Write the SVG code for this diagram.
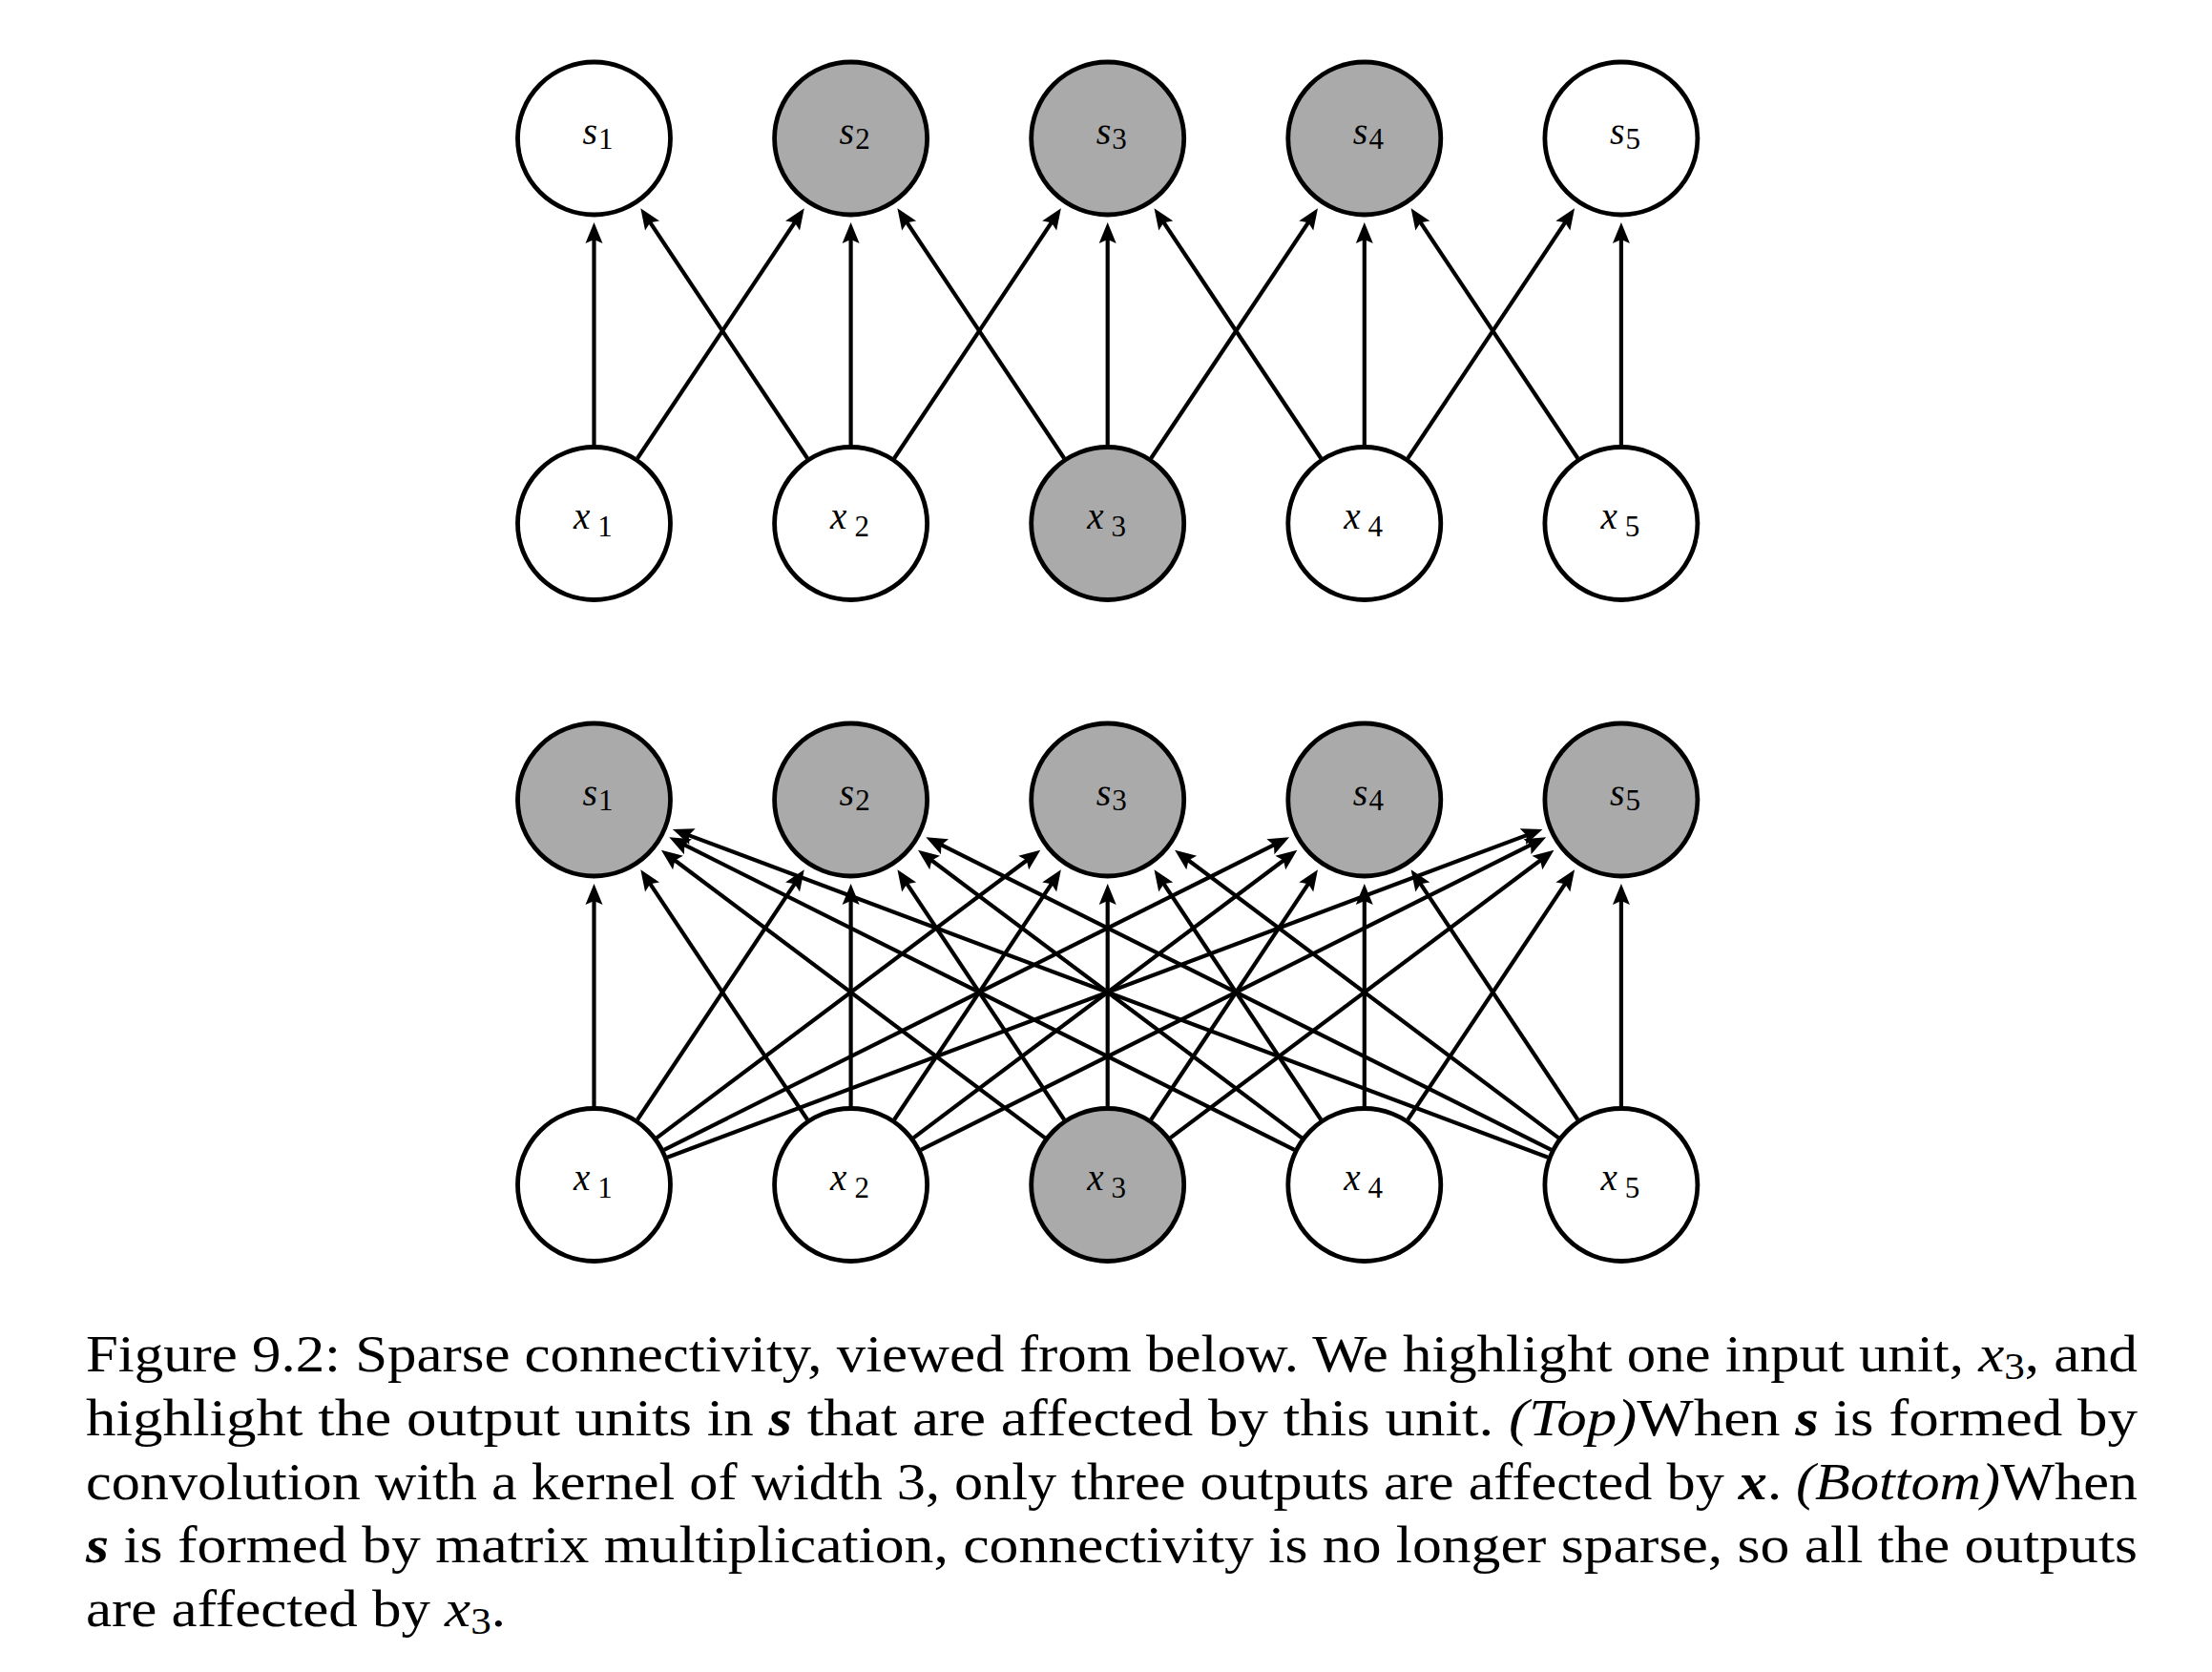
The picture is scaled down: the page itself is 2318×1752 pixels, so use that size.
<svg xmlns="http://www.w3.org/2000/svg" width="2318" height="1752" viewBox="0 0 2318 1752">
<style>
.n{stroke:#000;stroke-width:4.8;fill:#fff}
.g{fill:#aaaaaa}
.e line{stroke:#000;stroke-width:4.2;fill:none;marker-end:url(#ah)}
.lbl{font-family:"Liberation Serif","Times New Roman",serif;font-size:40px;fill:#000}
.xl{font-size:39px}
.cap{font-family:"Liberation Serif","Times New Roman",serif;font-size:55px;fill:#000}
.i{font-style:italic}
.bi{font-style:italic;font-weight:bold}
</style>
<defs>
<marker id="ah" markerUnits="userSpaceOnUse" orient="auto" refX="0" refY="0" markerWidth="40" markerHeight="40" viewBox="-20 -20 40 40" overflow="visible">
<path d="M12,0 L-10,-9 L-6,0 L-10,9 Z" fill="#000"/>
</marker>
</defs>
<rect width="2318" height="1752" fill="#fff"/>

<g id="connectors-top" class="e">
<line x1="622.5" y1="466.5" x2="622.5" y2="245"/>
<line x1="668.0" y1="480.28" x2="836.11" y2="228.2"/>
<line x1="846.1" y1="480.28" x2="677.99" y2="228.2"/>
<line x1="891.6" y1="466.5" x2="891.6" y2="245"/>
<line x1="937.1" y1="480.28" x2="1105.21" y2="228.2"/>
<line x1="1115.2" y1="480.28" x2="947.09" y2="228.2"/>
<line x1="1160.7" y1="466.5" x2="1160.7" y2="245"/>
<line x1="1206.2" y1="480.28" x2="1374.31" y2="228.2"/>
<line x1="1384.3" y1="480.28" x2="1216.19" y2="228.2"/>
<line x1="1429.8" y1="466.5" x2="1429.8" y2="245"/>
<line x1="1475.3" y1="480.28" x2="1643.41" y2="228.2"/>
<line x1="1653.4" y1="480.28" x2="1485.29" y2="228.2"/>
<line x1="1698.9" y1="466.5" x2="1698.9" y2="245"/>
</g>

<g id="connectors-bottom" class="e">
<line x1="622.5" y1="1159.5" x2="622.5" y2="938"/>
<line x1="668.0" y1="1173.28" x2="836.11" y2="921.2"/>
<line x1="688.11" y1="1192.32" x2="1080.69" y2="897.98"/>
<line x1="695.85" y1="1204.84" x2="1340.35" y2="882.71"/>
<line x1="699.28" y1="1212.72" x2="1605.26" y2="873.1"/>
<line x1="846.1" y1="1173.28" x2="677.99" y2="921.2"/>
<line x1="891.6" y1="1159.5" x2="891.6" y2="938"/>
<line x1="937.1" y1="1173.28" x2="1105.21" y2="921.2"/>
<line x1="957.21" y1="1192.32" x2="1349.79" y2="897.98"/>
<line x1="964.95" y1="1204.84" x2="1609.45" y2="882.71"/>
<line x1="1095.09" y1="1192.32" x2="702.51" y2="897.98"/>
<line x1="1115.2" y1="1173.28" x2="947.09" y2="921.2"/>
<line x1="1160.7" y1="1159.5" x2="1160.7" y2="938"/>
<line x1="1206.2" y1="1173.28" x2="1374.31" y2="921.2"/>
<line x1="1226.31" y1="1192.32" x2="1618.89" y2="897.98"/>
<line x1="1356.45" y1="1204.84" x2="711.95" y2="882.71"/>
<line x1="1364.19" y1="1192.32" x2="971.61" y2="897.98"/>
<line x1="1384.3" y1="1173.28" x2="1216.19" y2="921.2"/>
<line x1="1429.8" y1="1159.5" x2="1429.8" y2="938"/>
<line x1="1475.3" y1="1173.28" x2="1643.41" y2="921.2"/>
<line x1="1622.12" y1="1212.72" x2="716.14" y2="873.1"/>
<line x1="1625.55" y1="1204.84" x2="981.05" y2="882.71"/>
<line x1="1633.29" y1="1192.32" x2="1240.71" y2="897.98"/>
<line x1="1653.4" y1="1173.28" x2="1485.29" y2="921.2"/>
<line x1="1698.9" y1="1159.5" x2="1698.9" y2="938"/>
</g>

<!-- top diagram -->
<g id="top-s1"><circle class="n" cx="622.5" cy="145" r="80"/><text class="lbl" x="610.5" y="151"><tspan class="i">s</tspan><tspan font-size="31" dx="1" dy="5">1</tspan></text></g>
<g id="top-s2"><circle class="n g" cx="891.6" cy="145" r="80"/><text class="lbl" x="879.6" y="151"><tspan class="i">s</tspan><tspan font-size="31" dx="1" dy="5">2</tspan></text></g>
<g id="top-s3"><circle class="n g" cx="1160.7" cy="145" r="80"/><text class="lbl" x="1148.7" y="151"><tspan class="i">s</tspan><tspan font-size="31" dx="1" dy="5">3</tspan></text></g>
<g id="top-s4"><circle class="n g" cx="1429.8" cy="145" r="80"/><text class="lbl" x="1417.8" y="151"><tspan class="i">s</tspan><tspan font-size="31" dx="1" dy="5">4</tspan></text></g>
<g id="top-s5"><circle class="n" cx="1698.9" cy="145" r="80"/><text class="lbl" x="1686.9" y="151"><tspan class="i">s</tspan><tspan font-size="31" dx="1" dy="5">5</tspan></text></g>

<g id="top-x1"><circle class="n" cx="622.5" cy="548.5" r="80"/><text class="lbl xl" x="601" y="554"><tspan class="i">x</tspan><tspan font-size="31" dx="8" dy="8">1</tspan></text></g>
<g id="top-x2"><circle class="n" cx="891.6" cy="548.5" r="80"/><text class="lbl xl" x="870.1" y="554"><tspan class="i">x</tspan><tspan font-size="31" dx="8" dy="8">2</tspan></text></g>
<g id="top-x3"><circle class="n g" cx="1160.7" cy="548.5" r="80"/><text class="lbl xl" x="1139.2" y="554"><tspan class="i">x</tspan><tspan font-size="31" dx="8" dy="8">3</tspan></text></g>
<g id="top-x4"><circle class="n" cx="1429.8" cy="548.5" r="80"/><text class="lbl xl" x="1408.3" y="554"><tspan class="i">x</tspan><tspan font-size="31" dx="8" dy="8">4</tspan></text></g>
<g id="top-x5"><circle class="n" cx="1698.9" cy="548.5" r="80"/><text class="lbl xl" x="1677.4" y="554"><tspan class="i">x</tspan><tspan font-size="31" dx="8" dy="8">5</tspan></text></g>

<!-- bottom diagram -->
<g id="bot-s1"><circle class="n g" cx="622.5" cy="838" r="80"/><text class="lbl" x="610.5" y="844"><tspan class="i">s</tspan><tspan font-size="31" dx="1" dy="5">1</tspan></text></g>
<g id="bot-s2"><circle class="n g" cx="891.6" cy="838" r="80"/><text class="lbl" x="879.6" y="844"><tspan class="i">s</tspan><tspan font-size="31" dx="1" dy="5">2</tspan></text></g>
<g id="bot-s3"><circle class="n g" cx="1160.7" cy="838" r="80"/><text class="lbl" x="1148.7" y="844"><tspan class="i">s</tspan><tspan font-size="31" dx="1" dy="5">3</tspan></text></g>
<g id="bot-s4"><circle class="n g" cx="1429.8" cy="838" r="80"/><text class="lbl" x="1417.8" y="844"><tspan class="i">s</tspan><tspan font-size="31" dx="1" dy="5">4</tspan></text></g>
<g id="bot-s5"><circle class="n g" cx="1698.9" cy="838" r="80"/><text class="lbl" x="1686.9" y="844"><tspan class="i">s</tspan><tspan font-size="31" dx="1" dy="5">5</tspan></text></g>

<g id="bot-x1"><circle class="n" cx="622.5" cy="1241.5" r="80"/><text class="lbl xl" x="601" y="1247"><tspan class="i">x</tspan><tspan font-size="31" dx="8" dy="8">1</tspan></text></g>
<g id="bot-x2"><circle class="n" cx="891.6" cy="1241.5" r="80"/><text class="lbl xl" x="870.1" y="1247"><tspan class="i">x</tspan><tspan font-size="31" dx="8" dy="8">2</tspan></text></g>
<g id="bot-x3"><circle class="n g" cx="1160.7" cy="1241.5" r="80"/><text class="lbl xl" x="1139.2" y="1247"><tspan class="i">x</tspan><tspan font-size="31" dx="8" dy="8">3</tspan></text></g>
<g id="bot-x4"><circle class="n" cx="1429.8" cy="1241.5" r="80"/><text class="lbl xl" x="1408.3" y="1247"><tspan class="i">x</tspan><tspan font-size="31" dx="8" dy="8">4</tspan></text></g>
<g id="bot-x5"><circle class="n" cx="1698.9" cy="1241.5" r="80"/><text class="lbl xl" x="1677.4" y="1247"><tspan class="i">x</tspan><tspan font-size="31" dx="8" dy="8">5</tspan></text></g>

<!-- caption -->
<g id="caption">
<text class="cap" x="90" y="1437" textLength="2150" lengthAdjust="spacingAndGlyphs">Figure 9.2: Sparse connectivity, viewed from below. We highlight one input unit, <tspan class="i">x</tspan><tspan font-size="39" dy="8">3</tspan><tspan dy="-8">, and</tspan></text>
<text class="cap" x="90" y="1504" textLength="2150" lengthAdjust="spacingAndGlyphs">highlight the output units in <tspan class="bi">s</tspan> that are affected by this unit. <tspan class="i">(Top)</tspan>When <tspan class="bi">s</tspan> is formed by</text>
<text class="cap" x="90" y="1571" textLength="2150" lengthAdjust="spacingAndGlyphs">convolution with a kernel of width 3, only three outputs are affected by <tspan class="bi">x</tspan>. <tspan class="i">(Bottom)</tspan>When</text>
<text class="cap" x="90" y="1637" textLength="2150" lengthAdjust="spacingAndGlyphs"><tspan class="bi">s</tspan> is formed by matrix multiplication, connectivity is no longer sparse, so all the outputs</text>
<text class="cap" x="90" y="1704" textLength="440" lengthAdjust="spacingAndGlyphs">are affected by <tspan class="i">x</tspan><tspan font-size="39" dy="8">3</tspan><tspan dy="-8">.</tspan></text>
</g>
</svg>
